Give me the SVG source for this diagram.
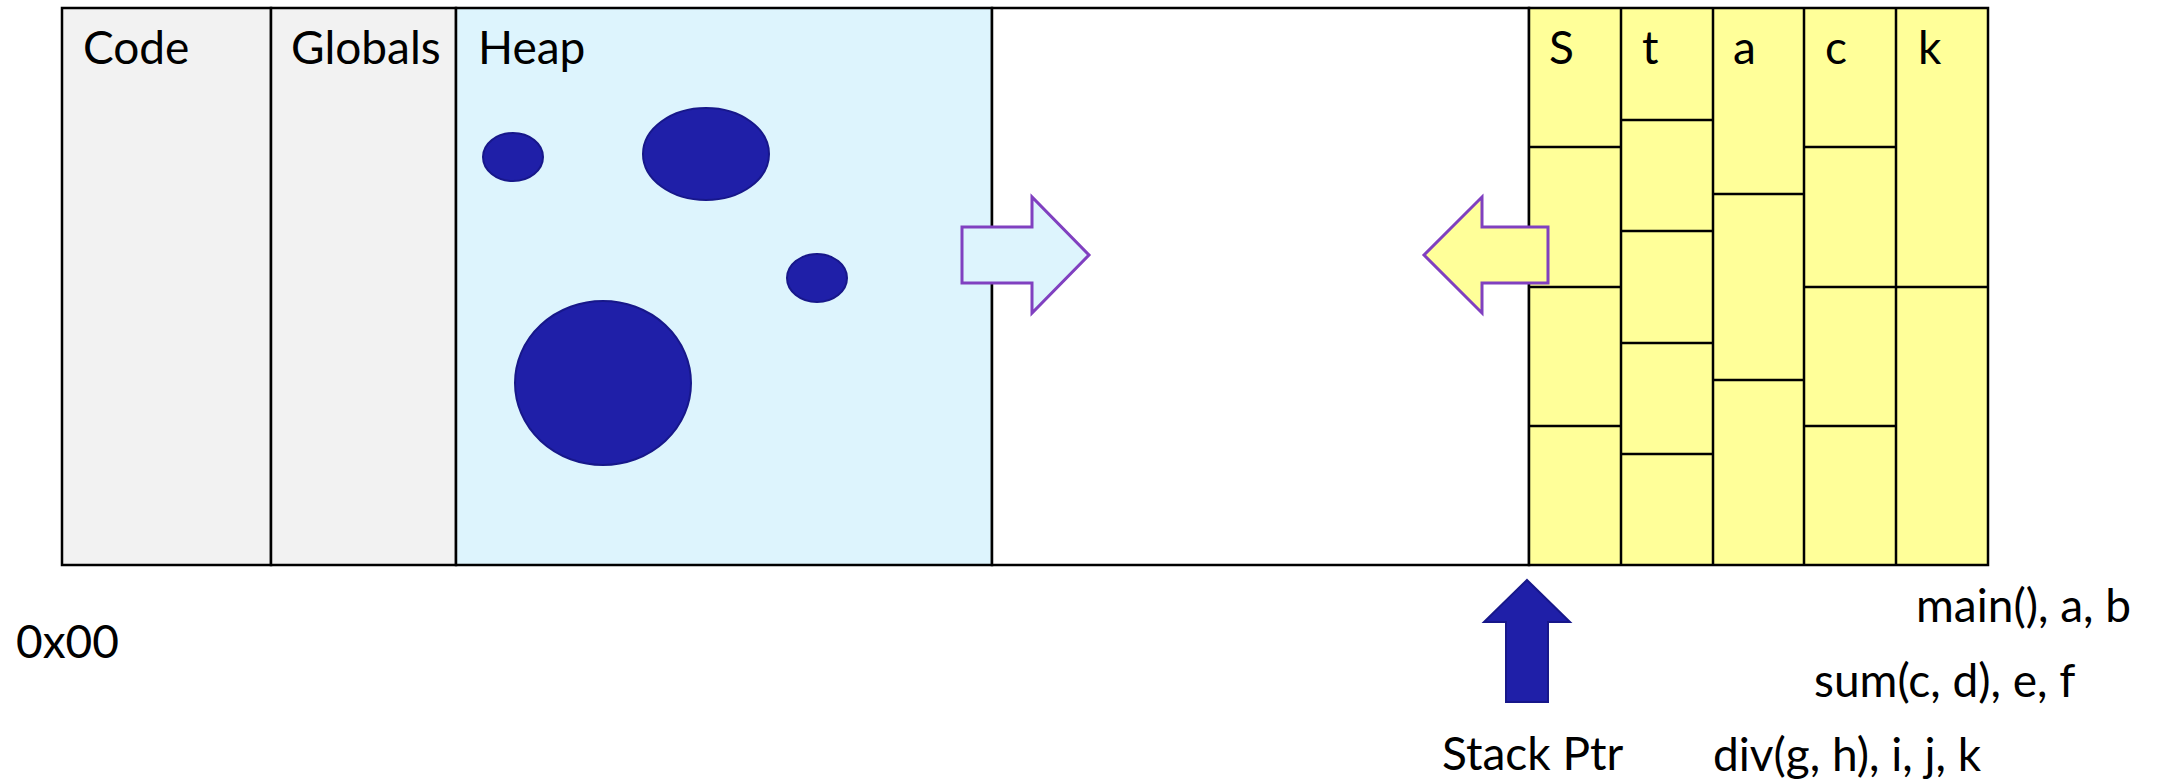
<svg xmlns="http://www.w3.org/2000/svg" width="2162" height="784" viewBox="0 0 2162 784">
<style>
.t{font-family:Lato,"Liberation Sans",sans-serif;font-size:46px;fill:#000}
.seg{stroke:#000;stroke-width:2.5}
.ln{stroke:#000;stroke-width:2.5;fill:none}
.blob{fill:#1F1FA8;stroke:#17178A;stroke-width:2}
.grow{stroke:#8040C0;stroke-width:3;stroke-linejoin:miter}
</style>
<rect width="2162" height="784" fill="#fff"/>
<g id="code">
<rect class="seg" x="62" y="8" width="209" height="557" fill="#F2F2F2"/>
<text class="t" x="83" y="64">Code</text>
</g>
<g id="globals">
<rect class="seg" x="271" y="8" width="185" height="557" fill="#F2F2F2"/>
<text class="t" x="291" y="64">Globals</text>
</g>
<g id="heap">
<rect class="seg" x="456" y="8" width="536" height="557" fill="#DDF4FD"/>
<text class="t" x="478" y="64">Heap</text>
<ellipse class="blob" cx="513" cy="157" rx="30" ry="24"/>
<ellipse class="blob" cx="706" cy="154" rx="63" ry="46"/>
<ellipse class="blob" cx="817" cy="278" rx="30" ry="24"/>
<ellipse class="blob" cx="603" cy="383" rx="88" ry="82"/>
</g>
<g id="free">
<rect class="seg" x="992" y="8" width="537" height="557" fill="#fff"/>
</g>
<g id="stack">
<rect class="seg" x="1529" y="8" width="459" height="557" fill="#FFFF99"/>
<path class="ln" d="M1621 8V565M1713 8V565M1804 8V565M1896 8V565"/>
<path class="ln" d="M1529 147H1621M1529 287H1621M1529 426H1621"/>
<path class="ln" d="M1621 120H1713M1621 231H1713M1621 343H1713M1621 454H1713"/>
<path class="ln" d="M1713 194H1804M1713 380H1804"/>
<path class="ln" d="M1804 147H1896M1804 287H1896M1804 426H1896"/>
<path class="ln" d="M1896 287H1988"/>
<text class="t" x="1549" y="64">S</text>
<text class="t" x="1642" y="64">t</text>
<text class="t" x="1733" y="64">a</text>
<text class="t" x="1825" y="64">c</text>
<text class="t" x="1918" y="64">k</text>
</g>
<g id="connectors">
<polygon id="heap-grow" class="grow" fill="#DDF4FD" points="962,227 1032,227 1032,197 1089,255 1032,313 1032,283 962,283"/>
<polygon id="stack-grow" class="grow" fill="#FFFF99" points="1548,227 1482,227 1482,197 1424,255 1482,313 1482,283 1548,283"/>
<polygon id="stack-ptr-arrow" fill="#1F1FA8" stroke="#17178A" stroke-width="2" points="1527,580 1570,622 1548,622 1548,702 1506,702 1506,622 1484,622"/>
</g>
<g id="labels">
<text class="t" x="16" y="658">0x00</text>
<text class="t" x="1916" y="622">main(), a, b</text>
<text class="t" x="1814" y="697">sum(c, d), e, f</text>
<text class="t" x="1713" y="771">div(g, h), i, j, k</text>
<text class="t" x="1442" y="770">Stack Ptr</text>
</g>
</svg>
